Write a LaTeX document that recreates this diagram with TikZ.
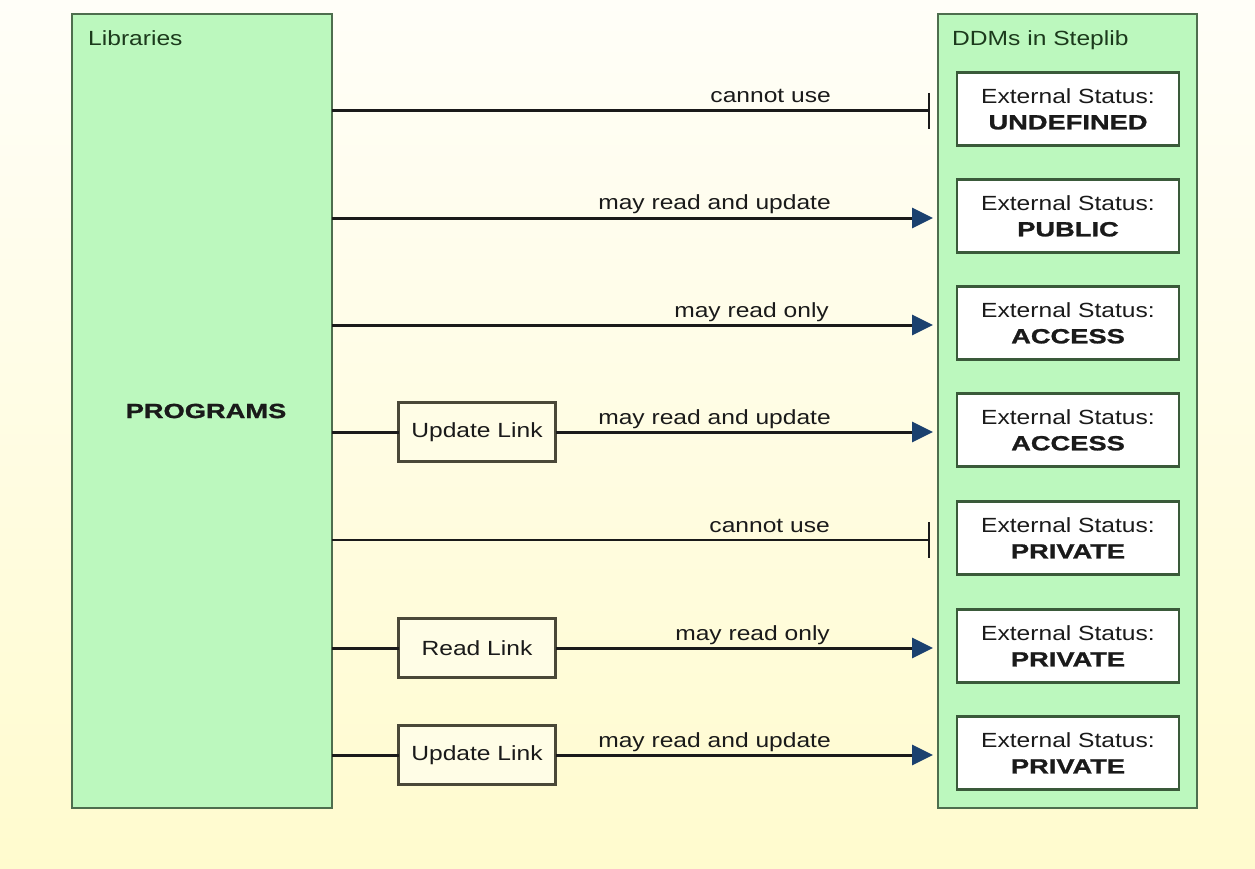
\documentclass[tikz,border=0pt]{standalone}
\usepackage{fontspec}
\setmainfont[FakeStretch=1.2]{Liberation Sans}
\newfontfamily\bfam[FakeStretch=1.33,BoldFeatures={FakeBold=1.2}]{Liberation Sans}
\usetikzlibrary{arrows.meta}
\definecolor{bgtop}{HTML}{FFFEF8}
\definecolor{bgbot}{HTML}{FFFBCE}
\definecolor{grn}{HTML}{BCF8BE}
\definecolor{grnline}{HTML}{4E6E4E}
\definecolor{stline}{HTML}{3A5A3A}
\definecolor{navy}{HTML}{1B416F}
\definecolor{lnk}{HTML}{4A4838}
\definecolor{lnkfill}{HTML}{FFFDE6}
\definecolor{txt}{HTML}{1A1A1A}
\definecolor{gtxt}{HTML}{1C3A1C}
\begin{document}
\begin{tikzpicture}[x=1pt,y=-1pt,
  fnt/.style={font=\fontsize{20.5}{26}\selectfont},
  panel/.style={draw=grnline, line width=2pt, fill=grn, outer sep=0pt, inner sep=0pt},
  status/.style={draw=stline, line width=2.5pt, fill=white, minimum width=222pt, minimum height=73pt, inner sep=0pt, outer sep=0pt, fnt, align=center, text=txt},
  linkbox/.style={draw=lnk, line width=2.5pt, fill=lnkfill, minimum width=157pt, minimum height=59pt, inner sep=0pt, outer sep=0pt, fnt, text=txt},
  lbl/.style={fnt, text=txt, inner sep=0pt, anchor=base east},
  title/.style={fnt, text=gtxt, inner sep=0pt, anchor=base west},
  conn/.style={draw=txt, line width=3pt},
  arr/.style={conn, -{Triangle[length=21pt,width=20pt,color=navy]}, shorten >=5pt},
  stopline/.style={conn, -{Bar[width=36pt,line width=2pt]}, shorten >=8pt},
]
\useasboundingbox (0,0) rectangle (1255,869);
\shade[top color=bgtop, bottom color=bgbot] (0,0) rectangle (1255,869);

% panels
\node[panel, minimum width=260pt, minimum height=794pt] (lib) at (202,411) {};
\node[panel, minimum width=259pt, minimum height=794pt] (ddm) at (1067.5,411) {};
\node[title] (libt) at (88,46) {Libraries};
\node[title] (ddmt) at (952,46) {DDMs in Steplib};
\node[fnt, text=txt, inner sep=0pt] (prog) at (206,411) {\bfam\bfseries PROGRAMS};

% row coordinates
\coordinate (r1) at (0,111);
\coordinate (r2) at (0,218);
\coordinate (r3) at (0,325);
\coordinate (r4) at (0,432);
\coordinate (r5) at (0,540);
\coordinate (r6) at (0,648);
\coordinate (r7) at (0,755);

% status boxes
\node[status] (s1) at (1068,109) {External Status:\\{\bfam\bfseries UNDEFINED}};
\node[status] (s2) at (1068,216) {External Status:\\{\bfam\bfseries PUBLIC}};
\node[status] (s3) at (1068,323) {External Status:\\{\bfam\bfseries ACCESS}};
\node[status] (s4) at (1068,430) {External Status:\\{\bfam\bfseries ACCESS}};
\node[status] (s5) at (1068,538) {External Status:\\{\bfam\bfseries PRIVATE}};
\node[status] (s6) at (1068,646) {External Status:\\{\bfam\bfseries PRIVATE}};
\node[status] (s7) at (1068,753) {External Status:\\{\bfam\bfseries PRIVATE}};

% link boxes
\node[linkbox] (k4) at (477,432) {Update Link};
\node[linkbox] (k6) at (477,648) {Read Link};
\node[linkbox] (k7) at (477,755) {Update Link};

% connectors
\draw[stopline] (lib.east |- r1) -- (ddm.west |- r1);
\draw[arr] (lib.east |- r2) -- (ddm.west |- r2);
\draw[arr] (lib.east |- r3) -- (ddm.west |- r3);
\draw[conn] (lib.east |- r4) -- (k4.west);
\draw[arr] (k4.east) -- (ddm.west |- r4);
\draw[stopline, line width=2pt] (lib.east |- r5) -- (ddm.west |- r5);
\draw[conn] (lib.east |- r6) -- (k6.west);
\draw[arr] (k6.east) -- (ddm.west |- r6);
\draw[conn] (lib.east |- r7) -- (k7.west);
\draw[arr] (k7.east) -- (ddm.west |- r7);

% labels
\node[lbl] (l1) at (831,103) {cannot use};
\node[lbl] (l2) at (831,210) {may read and update};
\node[lbl] (l3) at (829,317) {may read only};
\node[lbl] (l4) at (831,424) {may read and update};
\node[lbl] (l5) at (830,532) {cannot use};
\node[lbl] (l6) at (830,640) {may read only};
\node[lbl] (l7) at (831,747) {may read and update};
\end{tikzpicture}
\end{document}
